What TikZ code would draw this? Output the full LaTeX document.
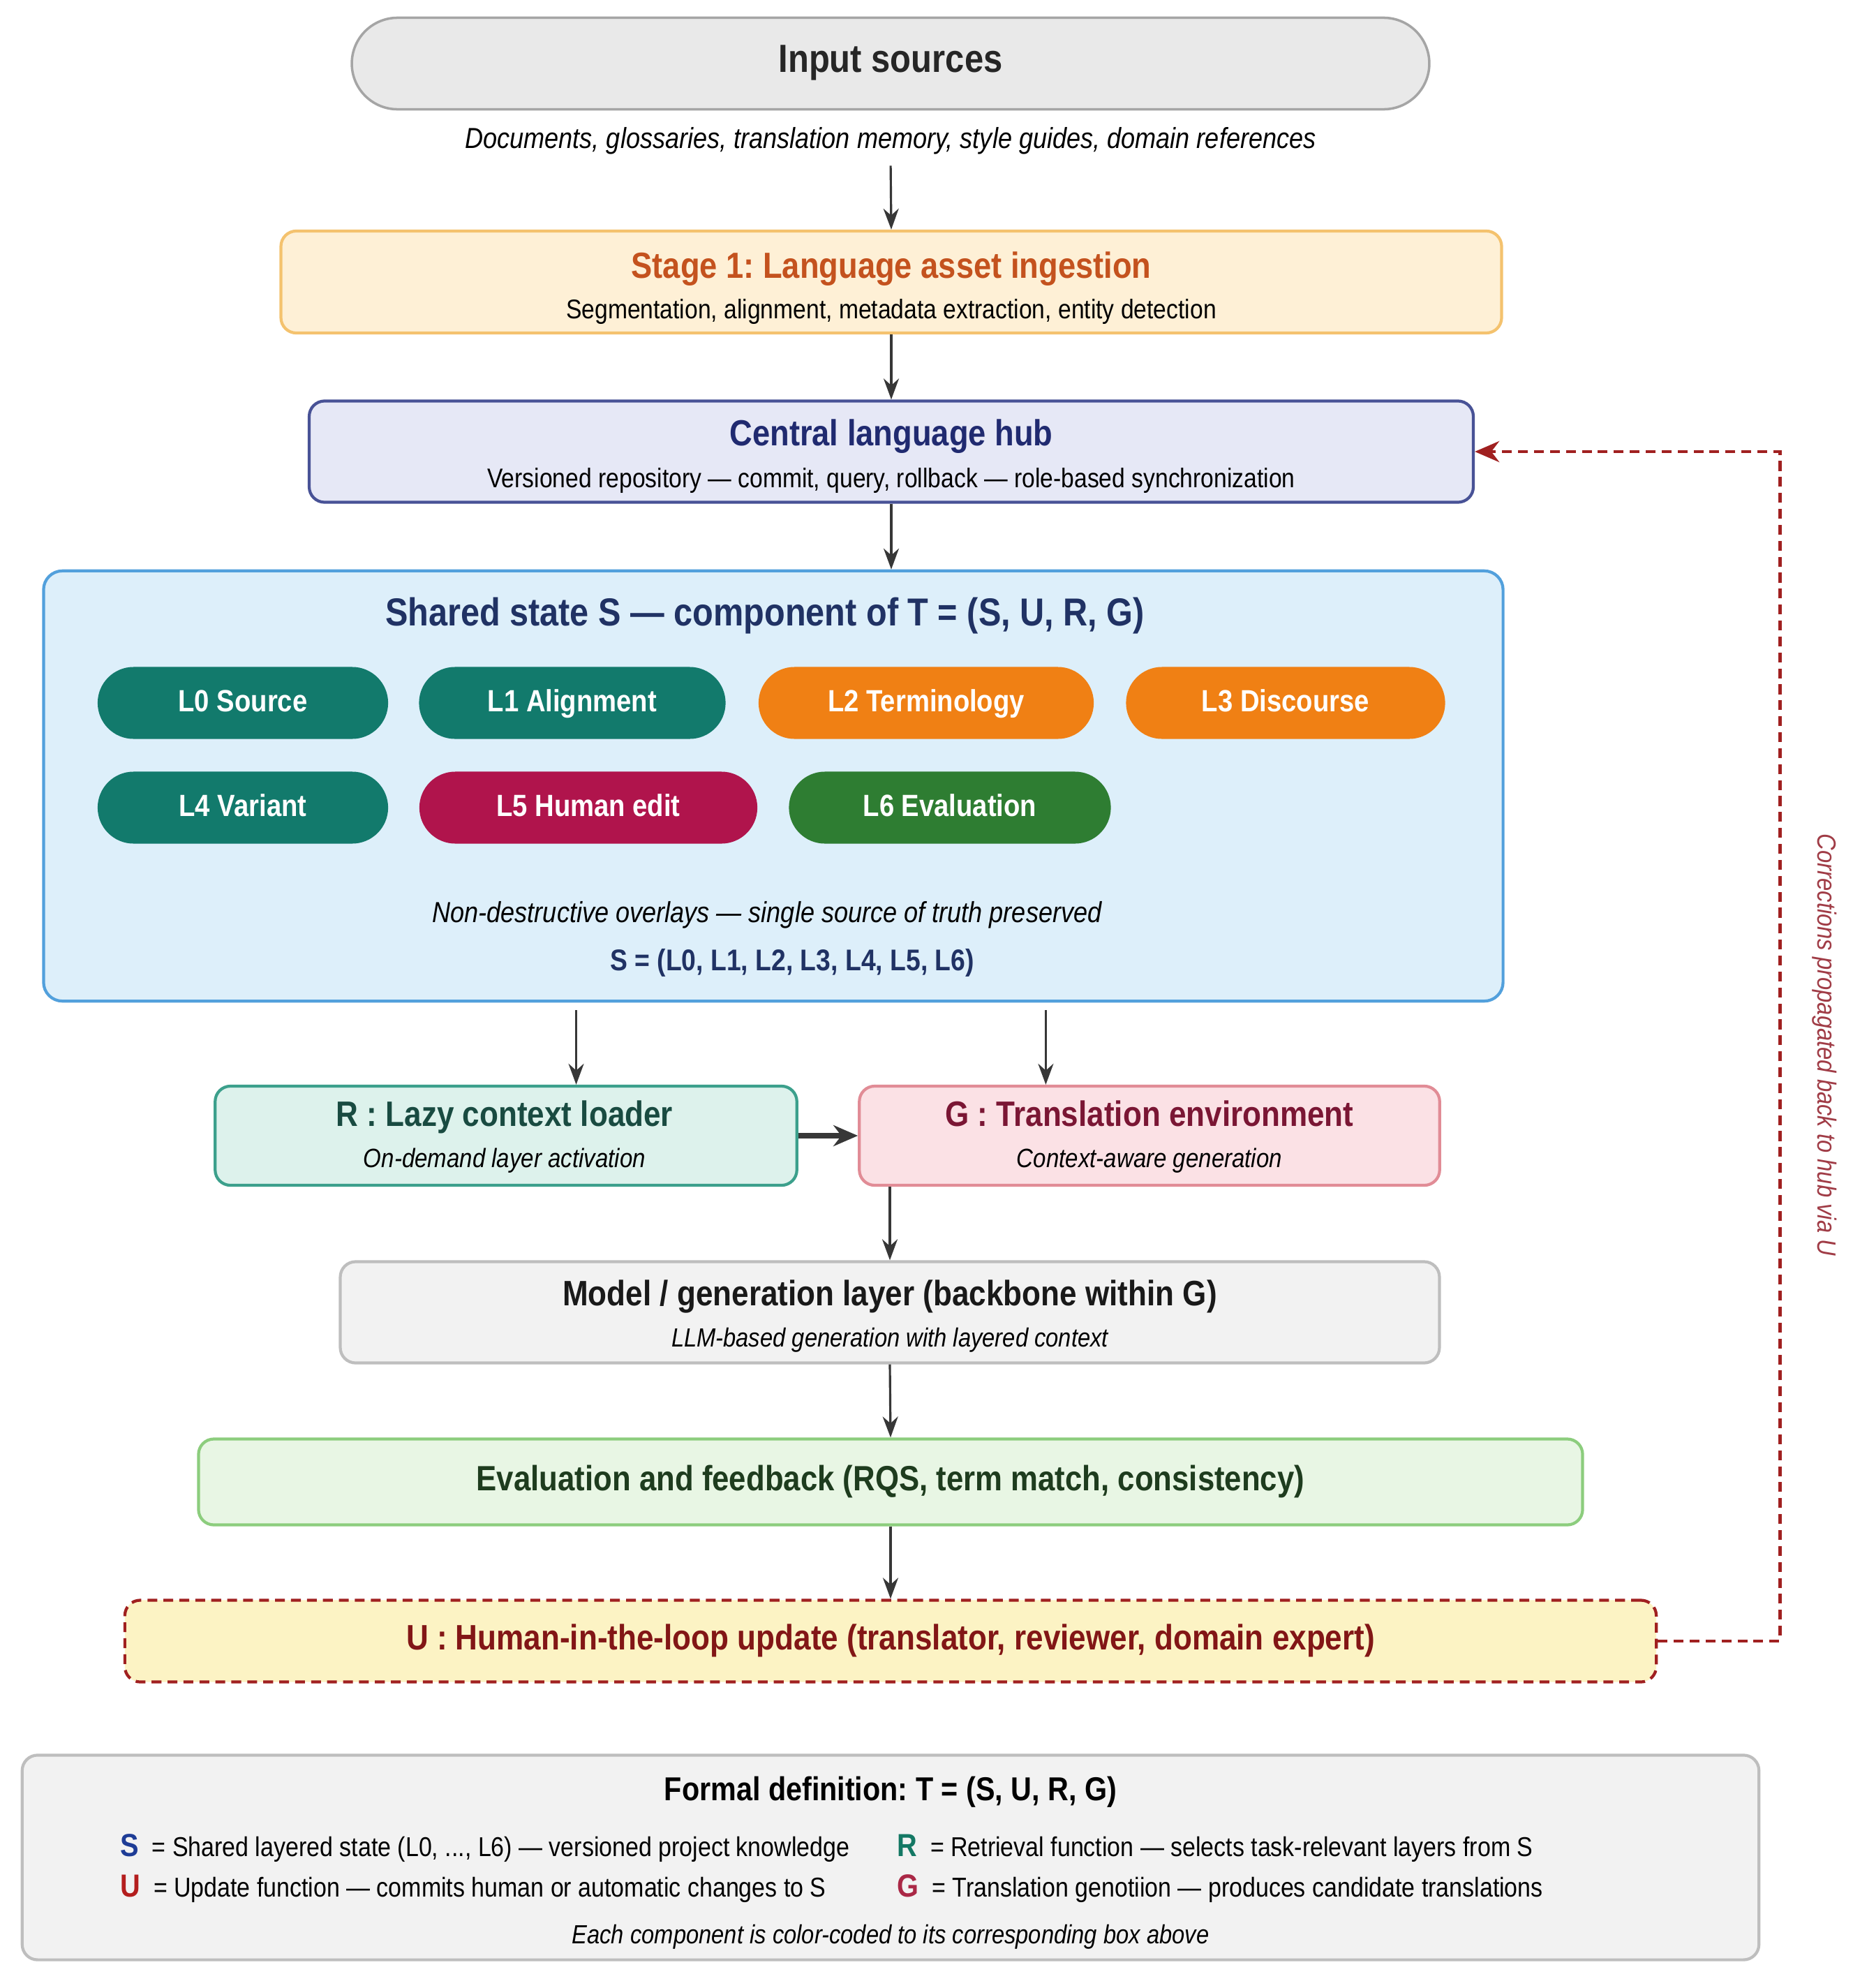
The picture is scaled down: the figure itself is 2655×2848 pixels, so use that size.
\documentclass[tikz,border=0pt]{standalone}
\usepackage{fontspec}
\setmainfont{Liberation Sans}[FakeStretch=0.87]
\usepackage{tikz}
\usetikzlibrary{positioning, arrows.meta, calc}
\definecolor{arrowgray}{RGB}{55,55,55}
\definecolor{inputfill}{RGB}{233,233,233}
\definecolor{inputline}{RGB}{165,165,165}
\definecolor{stagefill}{RGB}{254,240,214}
\definecolor{stageline}{RGB}{244,194,110}
\definecolor{stagetext}{RGB}{196,82,30}
\definecolor{hubfill}{RGB}{230,232,246}
\definecolor{hubline}{RGB}{72,82,150}
\definecolor{hubtext}{RGB}{32,42,112}
\definecolor{sharedfill}{RGB}{221,239,250}
\definecolor{sharedline}{RGB}{82,160,220}
\definecolor{sharedtext}{RGB}{32,50,100}
\definecolor{tealpill}{RGB}{18,122,108}
\definecolor{orangepill}{RGB}{240,128,20}
\definecolor{crimsonpill}{RGB}{176,20,76}
\definecolor{greenpill}{RGB}{46,125,50}
\definecolor{rfill}{RGB}{221,242,236}
\definecolor{rline}{RGB}{60,160,140}
\definecolor{rtext}{RGB}{25,75,65}
\definecolor{gfill}{RGB}{251,225,229}
\definecolor{gline}{RGB}{225,140,150}
\definecolor{gtext}{RGB}{122,22,52}
\definecolor{modelfill}{RGB}{242,242,242}
\definecolor{modelline}{RGB}{190,190,190}
\definecolor{evalfill}{RGB}{232,246,228}
\definecolor{evalline}{RGB}{140,205,125}
\definecolor{evaltext}{RGB}{30,60,30}
\definecolor{ufill}{RGB}{252,243,196}
\definecolor{uline}{RGB}{160,32,32}
\definecolor{utext}{RGB}{130,22,22}
\definecolor{notetext}{RGB}{160,60,70}
\definecolor{sletter}{RGB}{30,60,150}
\definecolor{rletter}{RGB}{20,120,100}
\definecolor{uletter}{RGB}{180,30,30}
\definecolor{gletter}{RGB}{170,40,70}
\tikzset{
  box/.style={draw, rectangle, rounded corners=0.22cm, line width=1.2pt},
  pill/.style={rectangle, rounded corners=0.515cm, minimum height=1.03cm, text height=0.72em, text depth=0em, text=white, font=\fontsize{12.5}{14}\selectfont\bfseries},
  title/.style={text height=0.72em, text depth=0em, font=\fontsize{14.8}{17}\selectfont\bfseries},
  subtitle/.style={text height=0.72em, text depth=0em, font=\fontsize{11}{13}\selectfont},
  subital/.style={text height=0.72em, text depth=0em, font=\fontsize{10.8}{13}\selectfont\itshape},
  flow/.style={-{Stealth[length=3mm, width=2.2mm]}, line width=0.9pt, arrowgray},
  feedback/.style={uline, line width=1.4pt, dash pattern=on 4pt off 2.5pt},
  defline/.style={anchor=west, text height=0.72em, text depth=0em, font=\fontsize{11.1}{13}\selectfont},
}
\newcommand{\defletter}[2]{{\fontsize{13}{15}\selectfont\bfseries\color{#1}#2}}
\begin{document}
\frenchspacing
\begin{tikzpicture}[x=0.01cm, y=-0.01cm]
    \useasboundingbox (0,0) rectangle (2655,2848);
    \fill[white] (0,0) rectangle (2655,2848);

    % === INPUT ===
    \node[draw=inputline, fill=inputfill, line width=1pt, rectangle, rounded corners=0.655cm, minimum width=15.43cm, minimum height=1.31cm, text height=0.72em, text depth=0em, font=\fontsize{16}{19}\selectfont\bfseries, text=black!85] (input) at (1276,91) {Input sources};
    \node[subital, font=\fontsize{11.8}{14}\selectfont\itshape] (inputsub) at (1276,200) {Documents, glossaries, translation memory, style guides, domain references};

    % Stage 1
    \node[box, draw=stageline, fill=stagefill, minimum width=17.48cm, minimum height=1.46cm] (stage) at (1277,404) {};
    \node[title, stagetext] (stagetitle) at (1277,386) {Stage 1: Language asset ingestion};
    \node[subtitle] (stagesub) at (1277,444) {Segmentation, alignment, metadata extraction, entity detection};

    % Hub
    \node[box, draw=hubline, fill=hubfill, minimum width=16.67cm, minimum height=1.45cm] (hub) at (1277,647) {};
    \node[title, hubtext] (hubtitle) at (1277,626) {Central language hub};
    \node[subtitle] (hubsub) at (1277,686) {Versioned repository — commit, query, rollback — role-based synchronization};

    % === SHARED STATE ===
    \node[box, draw=sharedline, fill=sharedfill, rounded corners=0.27cm, minimum width=20.9cm, minimum height=6.16cm] (shared) at (1108,1126) {};
    \node[title, font=\fontsize{15.9}{18}\selectfont\bfseries, sharedtext] (sharedtitle) at (1096,884) {Shared state S — component of T = (S, U, R, G)};

    % Layers
    \node[pill, fill=tealpill, minimum width=4.16cm] (l0) at (348,1007) {L0 Source};
    \node[pill, fill=tealpill, minimum width=4.39cm] (l1) at (820,1007) {L1 Alignment};
    \node[pill, fill=orangepill, minimum width=4.80cm] (l2) at (1327,1007) {L2 Terminology};
    \node[pill, fill=orangepill, minimum width=4.57cm] (l3) at (1842,1007) {L3 Discourse};
    \node[pill, fill=tealpill, minimum width=4.16cm] (l4) at (348,1157) {L4 Variant};
    \node[pill, fill=crimsonpill, minimum width=4.84cm] (l5) at (843,1157) {L5 Human edit};
    \node[pill, fill=greenpill, minimum width=4.61cm] (l6) at (1361,1157) {L6 Evaluation};

    \node[subital, font=\fontsize{11.8}{14}\selectfont\itshape] (overlays) at (1099,1309) {Non-destructive overlays — single source of truth preserved};
    \node[subtitle, font=\fontsize{12.2}{14}\selectfont\bfseries, sharedtext] (sdef) at (1135,1378) {S = (L0, L1, L2, L3, L4, L5, L6)};

    % === R / G ===
    \node[box, draw=rline, fill=rfill, minimum width=8.33cm, minimum height=1.42cm] (rbox) at (725,1627) {};
    \node[title, font=\fontsize{14.4}{17}\selectfont\bfseries, rtext] (rtitle) at (723,1601) {R : Lazy context loader};
    \node[subital] (rsub) at (723,1660) {On-demand layer activation};

    \node[box, draw=gline, fill=gfill, minimum width=8.31cm, minimum height=1.42cm] (gbox) at (1647,1627) {};
    \node[title, font=\fontsize{14.4}{17}\selectfont\bfseries, gtext] (gtitle) at (1647,1601) {G : Translation environment};
    \node[subital] (gsub) at (1647,1660) {Context-aware generation};

    % Model
    \node[box, draw=modelline, fill=modelfill, minimum width=15.74cm, minimum height=1.45cm] (model) at (1275,1880) {};
    \node[title, font=\fontsize{14.4}{17}\selectfont\bfseries, text=black!90] (modeltitle) at (1275,1858) {Model / generation layer (backbone within G)};
    \node[subital, font=\fontsize{10.7}{13}\selectfont\itshape] (modelsub) at (1275,1917) {LLM-based generation with layered context};

    % Evaluation
    \node[box, draw=evalline, fill=evalfill, minimum width=19.82cm, minimum height=1.23cm, text height=0.72em, text depth=0em, font=\fontsize{14.3}{17}\selectfont\bfseries, text=evaltext] (eval) at (1276,2123) {Evaluation and feedback (RQS, term match, consistency)};

    % Update
    \node[box, draw=uline, fill=ufill, dash pattern=on 4pt off 2.5pt, minimum width=21.93cm, minimum height=1.17cm, text height=0.72em, text depth=0em, font=\fontsize{14.4}{17}\selectfont\bfseries, text=utext] (ubox) at (1276,2351) {U : Human-in-the-loop update (translator, reviewer, domain expert)};

    % === FLOW ===
    \draw[flow, shorten <=3.5pt] (inputsub.south) -- (stage.north);
    \draw[flow] (stage.south) -- (hub.north);
    \draw[flow] (hub.south) -- (shared.north -| hub.south);
    \coordinate (rin) at ([xshift=1.005cm]rbox.north);
    \coordinate (gin) at ([xshift=-1.485cm]gbox.north);
    \draw[flow] ([yshift=-0.11cm]shared.south -| rin) -- (rin);
    \draw[flow] ([yshift=-0.11cm]shared.south -| gin) -- (gin);
    \draw[-{Stealth[length=3.5mm, width=3mm]}, line width=2.4pt, arrowgray] (rbox.east) -- (gbox.west);
    \draw[flow] (gbox.south -| model.north) -- (model.north);
    \draw[flow] (model.south) -- (eval.north);
    \draw[flow] (eval.south) -- (ubox.north);

    % Feedback to hub
    \draw[feedback, -{Stealth[length=3.5mm, width=3mm]}] (ubox.east) -- ++(175,0) |- (hub.east);
    \node[rotate=-90, font=\fontsize{10.7}{12}\selectfont\itshape, notetext] (note) at (2614,1497) {Corrections propagated back to hub via U};

    % === FORMAL DEFINITION ===
    \node[box, draw=modelline, fill=modelfill, minimum width=24.87cm, minimum height=2.93cm] (formal) at (1276,2661) {};
    \node[title, font=\fontsize{13.5}{16}\selectfont\bfseries] (formaltitle) at (1276,2567) {Formal definition: T = (S, U, R, G)};
    \node[defline] (sline) at (160,2647) {\defletter{sletter}{S}\ \ = Shared layered state (L0, ..., L6) — versioned project knowledge};
    \node[defline] (uline) at (160,2705) {\defletter{uletter}{U}\ \ = Update function — commits human or automatic changes to S};
    \node[defline] (rline) at (1273,2647) {\defletter{rletter}{R}\ \ = Retrieval function — selects task-relevant layers from S};
    \node[defline] (gline) at (1273,2705) {\defletter{gletter}{G}\ \ = Translation genotiion — produces candidate translations};
    \node[subital, font=\fontsize{10.7}{13}\selectfont\itshape] (formalnote) at (1276,2772) {Each component is color-coded to its corresponding box above};
\end{tikzpicture}
\end{document}
